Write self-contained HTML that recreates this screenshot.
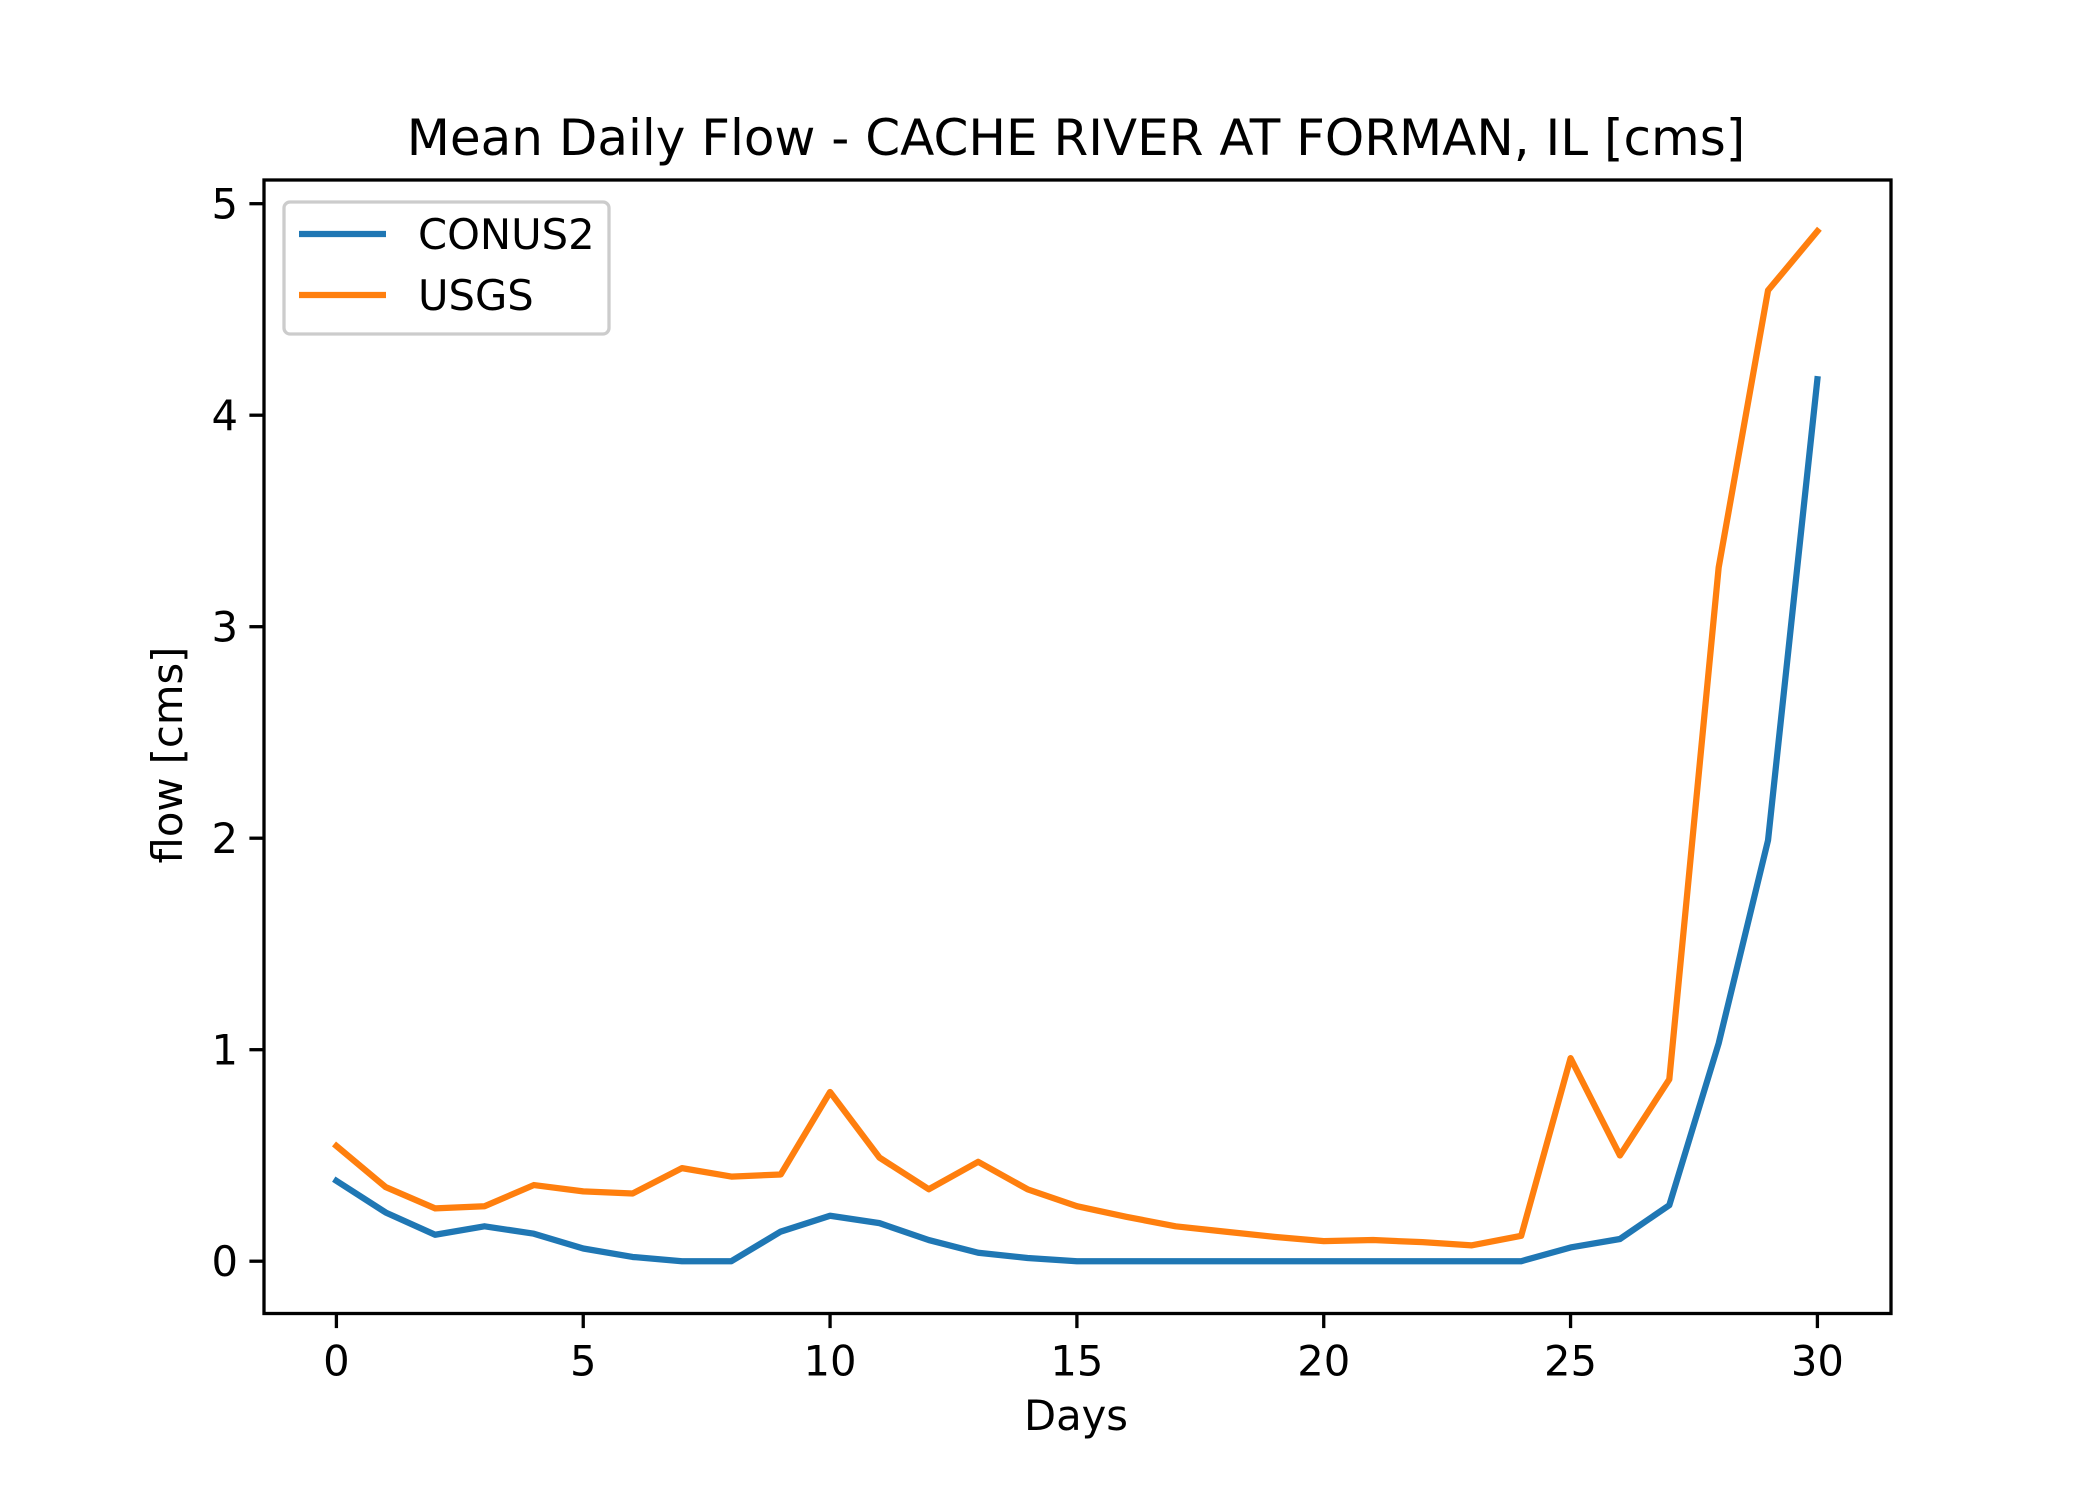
<!DOCTYPE html>
<html><head><meta charset="utf-8"><style>
html,body{margin:0;padding:0;background:#fff}
svg{display:block;font-family:"DejaVu Sans","Liberation Sans",sans-serif}
</style></head><body>
<svg id="chart" width="2100" height="1500" viewBox="0 0 2100 1500" xmlns="http://www.w3.org/2000/svg">
<rect width="2100" height="1500" fill="#fff"/>
<text x="1076" y="155" font-size="50" text-anchor="middle">Mean Daily Flow - CACHE RIVER AT FORMAN, IL [cms]</text>
<text x="1076" y="1430" font-size="41.7" text-anchor="middle">Days</text>
<text x="0" y="0" font-size="41.7" text-anchor="middle" transform="translate(182,755) rotate(-90)">flow [cms]</text>
<g id="plot"></g>
</svg>
<script>
const days = [0,1,2,3,4,5,6,7,8,9,10,11,12,13,14,15,16,17,18,19,20,21,22,23,24,25,26,27,28,29,30];
const usgs = [0.545,0.35,0.25,0.26,0.36,0.33,0.32,0.44,0.40,0.41,0.80,0.49,0.34,0.47,0.34,0.26,0.21,0.165,0.14,0.115,0.095,0.10,0.09,0.075,0.12,0.96,0.50,0.86,3.28,4.59,4.87];
const conus2 = [0.38,0.23,0.125,0.165,0.13,0.06,0.02,0,0,0.14,0.215,0.18,0.10,0.04,0.015,0,0,0,0,0,0,0,0,0,0,0.065,0.105,0.265,1.03,1.99,4.17];
const xTicks = [0,5,10,15,20,25,30];
const yTicks = [0,1,2,3,4,5];

const L=264,R=1891,T=180,B=1313.5;
const xs = v => 336.4 + (v-0)*(1817.4-336.4)/30;
const ys = v => 1261.2 - v*(1261.2-203.7)/5;
const NS="http://www.w3.org/2000/svg";
const g=document.getElementById('plot');
function mk(tag,attrs){const e=document.createElementNS(NS,tag);for(const k in attrs)e.setAttribute(k,attrs[k]);g.appendChild(e);return e;}

xTicks.forEach(t=>{
  const l=mk('line',{x1:xs(t),x2:xs(t),y1:B,y2:B+14.6,stroke:'#000','stroke-width':3.3});
  
  
  const tx=mk('text',{x:xs(t),y:B+47+15,'font-size':41.7,'text-anchor':'middle'});
  tx.textContent=t;
  
  
});
yTicks.forEach(t=>{
  const l=mk('line',{x1:L-14.6,x2:L,y1:ys(t),y2:ys(t),stroke:'#000','stroke-width':3.3});
  
  
  const tx=mk('text',{x:L-26,y:ys(t)+15,'font-size':41.7,'text-anchor':'end'});
  tx.textContent=t;
  
  
});
function series(vals,color,name){
  const p=mk('polyline',{points:days.map((d,i)=>xs(d)+','+ys(vals[i])).join(' '),fill:'none',stroke:color,'stroke-width':6.25,'stroke-linejoin':'round','stroke-linecap':'square'});
  
  
}
series(conus2,'#1f77b4','conus2-line');
series(usgs,'#ff7f0e','usgs-line');
const fr=mk('rect',{x:L,y:T,width:R-L,height:B-T,fill:'none',stroke:'#000','stroke-width':3.3});


const lg=mk('rect',{x:284,y:202,width:325,height:132,rx:6,fill:'#fff','fill-opacity':0.8,stroke:'#ccc','stroke-width':3.3});


[['CONUS2','#1f77b4',234],['USGS','#ff7f0e',295]].forEach(([n,c,y])=>{
  const l=mk('line',{x1:299,x2:386,y1:y,y2:y,stroke:c,'stroke-width':6.25});
  
  
  const t=mk('text',{x:418,y:y+15,'font-size':41.7});
  t.textContent=n;
  
  
});
</script>
</body></html>
